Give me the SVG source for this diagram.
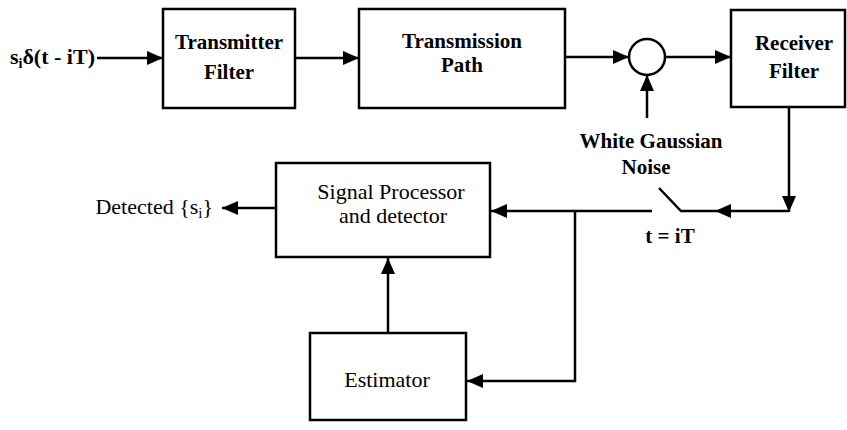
<svg xmlns="http://www.w3.org/2000/svg" width="847" height="430" viewBox="0 0 847 430">
<style>
.box{fill:#fff;stroke:#000;stroke-width:2.5}
.ln{fill:none;stroke:#000;stroke-width:2.5}
.t{font-family:"Liberation Serif","Times New Roman",serif;font-size:21px;font-weight:bold;text-anchor:middle;fill:#000}
.r{font-family:"Liberation Serif","Times New Roman",serif;font-size:22px;text-anchor:middle;fill:#000}
</style>
<defs>
<marker id="ah" markerUnits="userSpaceOnUse" markerWidth="18" markerHeight="16" refX="16" refY="7" orient="auto">
<path d="M0,0 L16,7 L0,14 z" fill="#000"/>
</marker>
</defs>
<rect width="847" height="430" fill="#fff"/>
<g id="source">
<text class="t" x="10" y="64" style="text-anchor:start;font-size:22px">s<tspan font-size="14" dy="4">i</tspan><tspan dy="-4">δ(t - iT)</tspan></text>
</g>
<g id="transmitter">
<rect class="box" x="163" y="9" width="132" height="99"/>
<text class="t" x="229" y="49">Transmitter</text>
<text class="t" x="229" y="79">Filter</text>
</g>
<g id="path">
<rect class="box" x="359" y="9" width="206" height="99"/>
<text class="t" x="462" y="48">Transmission</text>
<text class="t" x="462" y="72">Path</text>
</g>
<g id="adder">
<circle class="box" cx="647" cy="57" r="18"/>
</g>
<g id="noise">
<text class="t" x="651" y="148">White Gaussian</text>
<text class="t" x="646" y="174">Noise</text>
</g>
<g id="receiver">
<rect class="box" x="731" y="10" width="114" height="97"/>
<text class="t" x="794" y="50">Receiver</text>
<text class="t" x="794" y="78">Filter</text>
</g>
<g id="sampler">
<text class="t" x="670" y="243">t = iT</text>
</g>
<g id="processor">
<rect class="box" x="276" y="163" width="214" height="94"/>
<text class="r" x="391" y="199">Signal Processor</text>
<text class="r" x="393" y="223">and detector</text>
</g>
<g id="estimator">
<rect class="box" x="310" y="333" width="156" height="87"/>
<text class="r" x="387" y="387">Estimator</text>
</g>
<g id="output">
<text class="r" x="213" y="214" style="text-anchor:end">Detected {s<tspan font-size="15" dy="4">i</tspan><tspan dy="-4">}</tspan></text>
</g>
<g id="connectors">
<line class="ln" x1="97" y1="58" x2="163" y2="58" marker-end="url(#ah)"/>
<line class="ln" x1="295" y1="58" x2="359" y2="58" marker-end="url(#ah)"/>
<line class="ln" x1="565" y1="57" x2="629" y2="57" marker-end="url(#ah)"/>
<line class="ln" x1="665" y1="57" x2="731" y2="57" marker-end="url(#ah)"/>
<line class="ln" x1="647" y1="118" x2="647" y2="75" marker-end="url(#ah)"/>
<line class="ln" x1="789" y1="107" x2="789" y2="212" marker-end="url(#ah)"/>
<line class="ln" x1="789" y1="211" x2="715" y2="211" marker-end="url(#ah)"/>
<polyline class="ln" points="715,211 681,211 659,188"/>
<line class="ln" x1="652" y1="211" x2="491" y2="211" marker-end="url(#ah)"/>
<polyline class="ln" points="575,211 575,381 467,381" marker-end="url(#ah)"/>
<line class="ln" x1="388" y1="333" x2="388" y2="258" marker-end="url(#ah)"/>
<line class="ln" x1="276" y1="208" x2="222" y2="208" marker-end="url(#ah)"/>
</g>
</svg>
